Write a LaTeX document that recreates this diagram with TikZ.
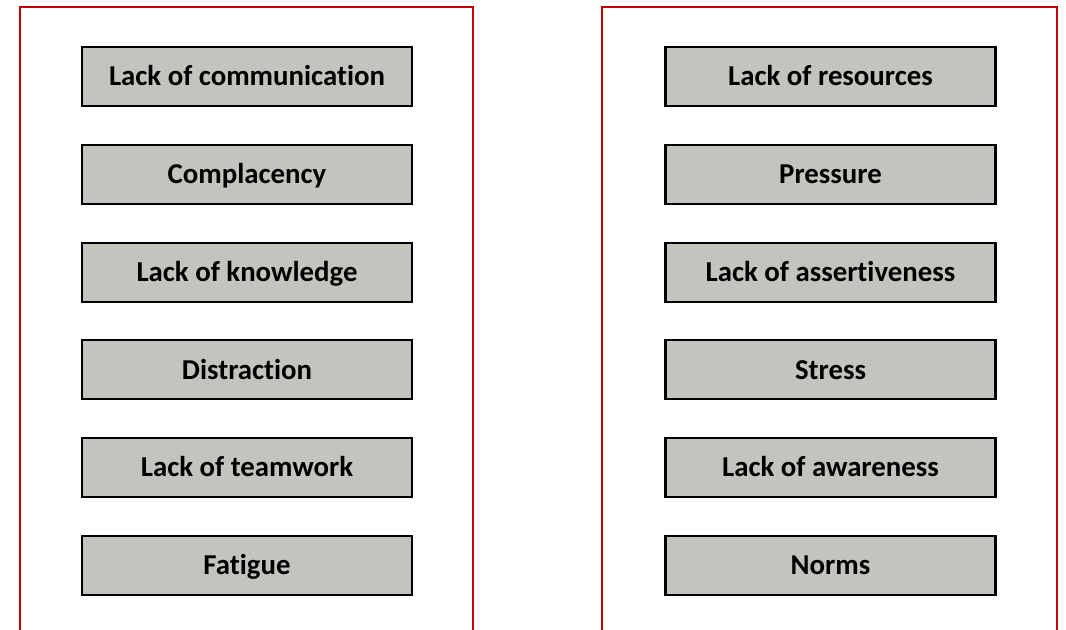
\documentclass[tikz,border=0pt]{standalone}
\usepackage{fontspec}
\setmainfont[Ligatures={NoCommon}]{Carlito}
\definecolor{framered}{HTML}{C00000}
\definecolor{boxgray}{HTML}{C3C4BE}
\tikzset{
  factor/.style={draw=black, line width=1.6pt, fill=boxgray, minimum width=330*0.75pt, minimum height=59*0.75pt, inner sep=0pt, text height=13.9pt, text depth=0pt, font=\fontsize{21.6}{24}\selectfont\bfseries, text=black},
  frame/.style={draw=framered, line width=2.2pt}
}
\begin{document}
\begin{tikzpicture}[x=0.75pt,y=-0.75pt]
\useasboundingbox (0,0) rectangle (1066,630);
\clip (0,0) rectangle (1066,630);
\fill[white] (0,0) rectangle (1066,630);
% frames
\coordinate (l1) at (20,640);
\coordinate (l2) at (20,7);
\coordinate (l3) at (473,7);
\coordinate (l4) at (473,640);
\draw[frame] (l1) -- (l2) -- (l3) -- (l4);
\coordinate (r1) at (602,640);
\coordinate (r2) at (602,7);
\coordinate (r3) at (1057,7);
\coordinate (r4) at (1057,640);
\draw[frame] (r1) -- (r2) -- (r3) -- (r4);
% left column
\node[factor] (a1) at (247,76.5) {Lack of communication};
\node[factor] (a2) at (247,174.3) {Complacency};
\node[factor] (a3) at (247,272.1) {Lack of knowledge};
\node[factor] (a4) at (247,369.9) {Distraction};
\node[factor] (a5) at (247,467.7) {Lack of teamwork};
\node[factor] (a6) at (247,565.5) {Fatigue};
% right column
\node[factor] (b1) at (830.5,76.5) {Lack of resources};
\node[factor] (b2) at (830.5,174.3) {Pressure};
\node[factor] (b3) at (830.5,272.1) {Lack of assertiveness};
\node[factor] (b4) at (830.5,369.9) {Stress};
\node[factor] (b5) at (830.5,467.7) {Lack of awareness};
\node[factor] (b6) at (830.5,565.5) {Norms};
\end{tikzpicture}
\end{document}
